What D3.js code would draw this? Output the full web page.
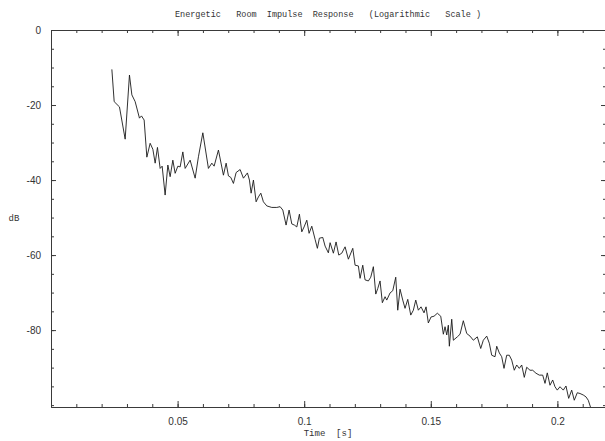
<!DOCTYPE html>
<html>
<head>
<meta charset="utf-8">
<script src="https://cdn.jsdelivr.net/npm/d3@7"></script>
<style>
  body { margin: 0; background: #fff; }
  svg { display: block; }
  text { white-space: pre; }
</style>
</head>
<body>
<svg id="chart" width="605" height="441"></svg>
<script>
"use strict";

// time of each sample [s]
var timeS = [
  0.02404, 0.02495, 0.02704, 0.02929, 0.03099, 0.03194, 0.03324, 0.03494, 0.03573, 0.03679,
  0.03786, 0.03916, 0.04023, 0.04114, 0.04205, 0.04311, 0.04390, 0.04508, 0.04615, 0.04706,
  0.04812, 0.04903, 0.05010, 0.05101, 0.05207, 0.05298, 0.05495, 0.05693, 0.05823, 0.05997,
  0.06218, 0.06352, 0.06443, 0.06613, 0.06810, 0.06917, 0.07008, 0.07102, 0.07205, 0.07311,
  0.07469, 0.07600, 0.07758, 0.07837, 0.07904, 0.07995, 0.08101, 0.08192, 0.08287, 0.08389,
  0.08524, 0.08721, 0.08918, 0.09049, 0.09155, 0.09285, 0.09404, 0.09511, 0.09613, 0.09708,
  0.09811, 0.09905, 0.09996, 0.10103, 0.10193, 0.10300, 0.10430, 0.10521, 0.10600, 0.10734,
  0.10825, 0.10955, 0.11023, 0.11153, 0.11259, 0.11366, 0.11484, 0.11615, 0.11745, 0.11919,
  0.12010, 0.12140, 0.12207, 0.12313, 0.12404, 0.12535, 0.12629, 0.12732, 0.12827, 0.12906,
  0.12996, 0.13087, 0.13194, 0.13261, 0.13391, 0.13498, 0.13616, 0.13695, 0.13786, 0.13893,
  0.13983, 0.14090, 0.14209, 0.14311, 0.14406, 0.14509, 0.14615, 0.14733, 0.14813, 0.14903,
  0.15010, 0.15128, 0.15259, 0.15393, 0.15496, 0.15563, 0.15630, 0.15693, 0.15733, 0.15827,
  0.15891, 0.16048, 0.16155, 0.16285, 0.16419, 0.16549, 0.16680, 0.16838, 0.16972, 0.17075,
  0.17209, 0.17312, 0.17406, 0.17537, 0.17604, 0.17707, 0.17801, 0.17892, 0.17998, 0.18101,
  0.18196, 0.18298, 0.18393, 0.18496, 0.18591, 0.18693, 0.18788, 0.18918, 0.19025, 0.19155,
  0.19286, 0.19420, 0.19511, 0.19601, 0.19708, 0.19815, 0.19905, 0.19996, 0.20103, 0.20233,
  0.20339, 0.20446, 0.20565, 0.20667, 0.20786, 0.20892, 0.21022, 0.21129, 0.21220, 0.21307
];

// energy level [dB]
var levelDb = [
  -10.5, -19.1, -20.5, -29.1, -12.0, -17.3, -19.1, -23.5, -22.9, -24.0,
  -33.9, -30.2, -31.8, -35.5, -31.3, -36.9, -36.3, -44.0, -36.0, -39.1,
  -34.7, -38.2, -36.3, -36.5, -32.5, -36.9, -34.7, -39.5, -33.8, -27.4,
  -36.9, -35.5, -36.3, -32.0, -38.7, -35.5, -38.9, -39.3, -40.9, -38.0,
  -37.2, -39.5, -38.1, -40.0, -43.5, -40.0, -45.8, -44.5, -43.5, -45.8,
  -46.9, -47.3, -47.3, -47.1, -48.0, -52.0, -48.0, -51.7, -52.0, -52.5,
  -49.1, -53.8, -52.5, -50.7, -54.2, -52.3, -55.8, -58.2, -55.5, -55.3,
  -57.6, -59.4, -56.7, -59.5, -56.5, -60.0, -59.5, -57.8, -61.1, -58.2,
  -62.7, -62.9, -66.2, -62.7, -66.6, -66.9, -65.9, -63.1, -70.4, -68.9,
  -66.9, -72.7, -71.1, -72.0, -70.1, -69.5, -65.9, -74.7, -69.1, -72.0,
  -74.2, -71.8, -76.0, -74.7, -72.0, -74.7, -73.8, -75.4, -73.8, -78.1,
  -76.5, -76.3, -75.5, -76.3, -81.1, -79.1, -81.3, -78.7, -84.3, -77.1,
  -82.7, -81.8, -81.1, -77.5, -80.9, -81.6, -82.7, -81.8, -84.9, -82.7,
  -81.6, -83.5, -86.7, -87.1, -84.3, -86.1, -87.1, -90.2, -86.7, -86.7,
  -88.0, -90.7, -89.3, -90.2, -89.3, -92.6, -89.9, -90.7, -90.7, -91.5,
  -92.0, -92.0, -94.2, -91.4, -94.7, -93.3, -95.1, -96.0, -95.1, -96.0,
  -94.9, -98.2, -96.0, -98.7, -96.7, -96.9, -97.3, -97.8, -98.7, -100.5
];

var xMajorTicks = [0.05, 0.1, 0.15, 0.2];
var xTickLabels = ["0.05", "0.1", "0.15", "0.2"];
var xMinorTicks = d3.range(0.01, 0.22, 0.01);
var yMajorTicks = [0, -20, -40, -60, -80];
var yTickLabels = ["0", "-20", "-40", "-60", "-80"];
var yMinorTicks = d3.range(0, -101, -5);

var titleText = "Energetic   Room  Impulse  Response   (Logarithmic   Scale )";
var xTitle = "Time  [s]";
var yTitle = "dB";

var box = { left: 51, top: 30, right: 606, bottom: 407 };
var axisColour = "#3a3a3a";
var textColour = "#333";
var monoFont = "'Liberation Mono', 'DejaVu Sans Mono', monospace";
var tickFont = "'Liberation Sans', 'DejaVu Sans', sans-serif";

var svg = d3.select("#chart");

var x = d3.scaleLinear()
  .domain([0, 0.2192])
  .range([box.left, box.right]);
var y = d3.scaleLinear()
  .domain([-100.5, 0])
  .range([box.bottom, box.top]);

// style an axis group: thin grey lines, small font
function styleAxis(g) {
  g.select(".domain").attr("stroke", axisColour);
  g.selectAll(".tick line").attr("stroke", axisColour);
  g.selectAll(".tick text")
    .attr("fill", textColour)
    .style("font-family", tickFont)
    .style("font-size", "10px");
}

/*
 * frame with inward ticks on all four sides
 */
// minor ticks first, major ones on top
svg.append("g")
  .attr("transform", "translate(0," + box.bottom + ")")
  .call(d3.axisBottom(x).tickValues(xMinorTicks).tickSize(-3).tickSizeOuter(0).tickFormat(""))
  .call(styleAxis);
svg.append("g")
  .attr("transform", "translate(0," + box.bottom + ")")
  .call(d3.axisBottom(x).tickValues(xMajorTicks).tickSize(-6).tickSizeOuter(0).tickPadding(11)
    .tickFormat(function(d, i) { return xTickLabels[i]; }))
  .call(styleAxis);

svg.append("g")
  .attr("transform", "translate(0," + box.top + ")")
  .call(d3.axisTop(x).tickValues(xMinorTicks).tickSize(-3).tickSizeOuter(0).tickFormat(""))
  .call(styleAxis);
svg.append("g")
  .attr("transform", "translate(0," + box.top + ")")
  .call(d3.axisTop(x).tickValues(xMajorTicks).tickSize(-6).tickSizeOuter(0).tickFormat(""))
  .call(styleAxis);

svg.append("g")
  .attr("transform", "translate(" + box.left + ",0)")
  .call(d3.axisLeft(y).tickValues(yMinorTicks).tickSize(-3).tickSizeOuter(0).tickFormat(""))
  .call(styleAxis);
svg.append("g")
  .attr("transform", "translate(" + box.left + ",0)")
  .call(d3.axisLeft(y).tickValues(yMajorTicks).tickSize(-5).tickSizeOuter(0).tickPadding(10)
    .tickFormat(function(d, i) { return yTickLabels[i]; }))
  .call(styleAxis);

svg.append("g")
  .attr("transform", "translate(" + box.right + ",0)")
  .call(d3.axisRight(y).tickValues(yMinorTicks).tickSize(-3).tickSizeOuter(0).tickFormat(""))
  .call(styleAxis);
svg.append("g")
  .attr("transform", "translate(" + box.right + ",0)")
  .call(d3.axisRight(y).tickValues(yMajorTicks).tickSize(-5).tickSizeOuter(0).tickFormat(""))
  .call(styleAxis);

// the response curve
var points = timeS.map(function(t, i) { return [t, levelDb[i]]; });
var line = d3.line()
  .x(function(d) { return x(d[0]); })
  .y(function(d) { return y(d[1]); });

svg.append("path")
  .datum(points)
  .attr("d", line)
  .attr("fill", "none")
  .attr("stroke", "#1a1a1a")
  .attr("stroke-width", 0.9)
  .attr("stroke-linejoin", "round");

// titles
svg.append("text")
  .attr("x", 328)
  .attr("y", 17)
  .attr("text-anchor", "middle")
  .attr("fill", textColour)
  .style("font-family", monoFont)
  .style("font-size", "8.5px")
  .text(titleText);

svg.append("text")
  .attr("x", 328)
  .attr("y", 436)
  .attr("text-anchor", "middle")
  .attr("fill", textColour)
  .style("font-family", monoFont)
  .style("font-size", "9px")
  .text(xTitle);

svg.append("text")
  .attr("x", 14)
  .attr("y", 221)
  .attr("text-anchor", "middle")
  .attr("fill", textColour)
  .style("font-family", monoFont)
  .style("font-size", "9px")
  .text(yTitle);
</script>
</body>
</html>
